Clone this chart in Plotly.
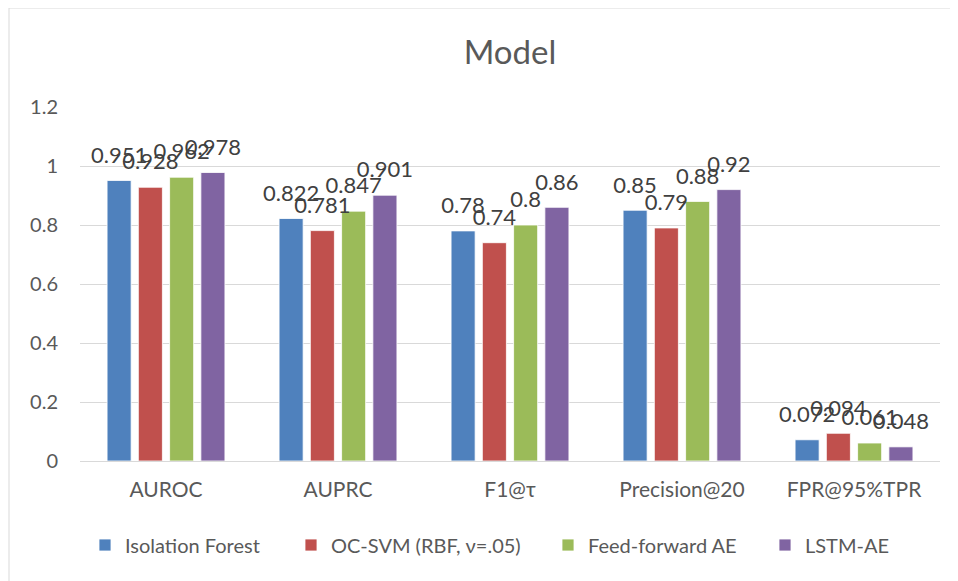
import plotly.graph_objects as go

categories = ["AUROC", "AUPRC", "F1@τ", "Precision@20", "FPR@95%TPR"]
series_names = ["Isolation Forest", "OC-SVM (RBF, ν=.05)", "Feed-forward AE", "LSTM-AE"]
isolation_forest = [0.951, 0.822, 0.78, 0.85, 0.072]
oc_svm = [0.928, 0.781, 0.74, 0.79, 0.094]
feed_forward_ae = [0.962, 0.847, 0.8, 0.88, 0.061]
lstm_ae = [0.978, 0.901, 0.86, 0.92, 0.048]
y_ticks = [0, 0.2, 0.4, 0.6, 0.8, 1, 1.2]
y_tick_labels = ["0", "0.2", "0.4", "0.6", "0.8", "1", "1.2"]

colors = ["#4F81BD", "#C0504D", "#9BBB59", "#8064A2"]
FONT = "Lato, 'Open Sans', sans-serif"
BARGAP = 0.273

W, H = 958, 581
OFF = 8  # page body margin
L, R, T, B = 80 - OFF, 18 + OFF, 107 - OFF, 120 + OFF
pw, ph = W - L - R, H - T - B

def px(x):
    return (x - OFF - L) / pw

def py(y):
    return (H - B - (y - OFF)) / ph

legend_ids = ["legend", "legend2", "legend3", "legend4"]
legend_square_x = [101, 307, 564, 781]

fig = go.Figure()
all_series = [isolation_forest, oc_svm, feed_forward_ae, lstm_ae]
for i, (name, vals, col) in enumerate(zip(series_names, all_series, colors)):
    fig.add_trace(go.Bar(
        x=categories, y=vals, name=name, offsetgroup=str(i), legend=legend_ids[i],
        marker=dict(color=col, line=dict(color="rgba(255,255,255,0.8)", width=1)),
    ))
for i, (name, vals) in enumerate(zip(series_names, all_series)):
    fig.add_trace(go.Scatter(
        x=categories, y=vals, name=name, offsetgroup=str(i),
        mode="markers+text", showlegend=False, hoverinfo="skip",
        marker=dict(size=18, opacity=0),
        text=[f"{v:g}" for v in vals],
        textposition="top center",
        cliponaxis=False,
        textfont=dict(family=FONT, size=22, color="#404040"),
    ))

fig.add_shape(type="rect", xref="paper", yref="paper",
              x0=px(9), x1=px(962), y0=py(590), y1=py(8),
              line=dict(color="#D9D9D9", width=1), fillcolor="rgba(0,0,0,0)", layer="below")

legend_style = dict(orientation="h", yanchor="middle", xanchor="left",
                    y=py(545), bgcolor="rgba(0,0,0,0)",
                    font=dict(family=FONT, size=20, color="#595959"), itemwidth=30)
legends = {}
for lid, sx in zip(legend_ids, legend_square_x):
    legends[lid] = dict(legend_style, x=px(sx - 16))

fig.update_layout(
    width=W, height=H,
    margin=dict(l=L, r=R, t=T, b=B),
    paper_bgcolor="white", plot_bgcolor="white",
    barmode="group", bargap=BARGAP, bargroupgap=0.23,
    scattermode="group", scattergap=BARGAP,
    title=dict(text="Model", x=0.5, xref="paper", xanchor="center",
               y=1 - (52 - OFF) / H, yanchor="middle",
               font=dict(family=FONT, size=33, color="#595959")),
    font=dict(family=FONT, color="#595959"),
    showlegend=True,
    xaxis=dict(showgrid=False, showline=True, linecolor="#D9D9D9", linewidth=1,
               ticks="", ticklabelstandoff=10,
               tickfont=dict(family=FONT, size=21, color="#595959")),
    yaxis=dict(range=[0, 1.2], tickvals=y_ticks, ticktext=y_tick_labels,
               showgrid=True, gridcolor="#D9D9D9", gridwidth=1,
               zeroline=False, showline=False, ticks="", ticklabelstandoff=21,
               tickfont=dict(family=FONT, size=20, color="#595959")),
    **legends,
)

fig.write_html("out.html")
